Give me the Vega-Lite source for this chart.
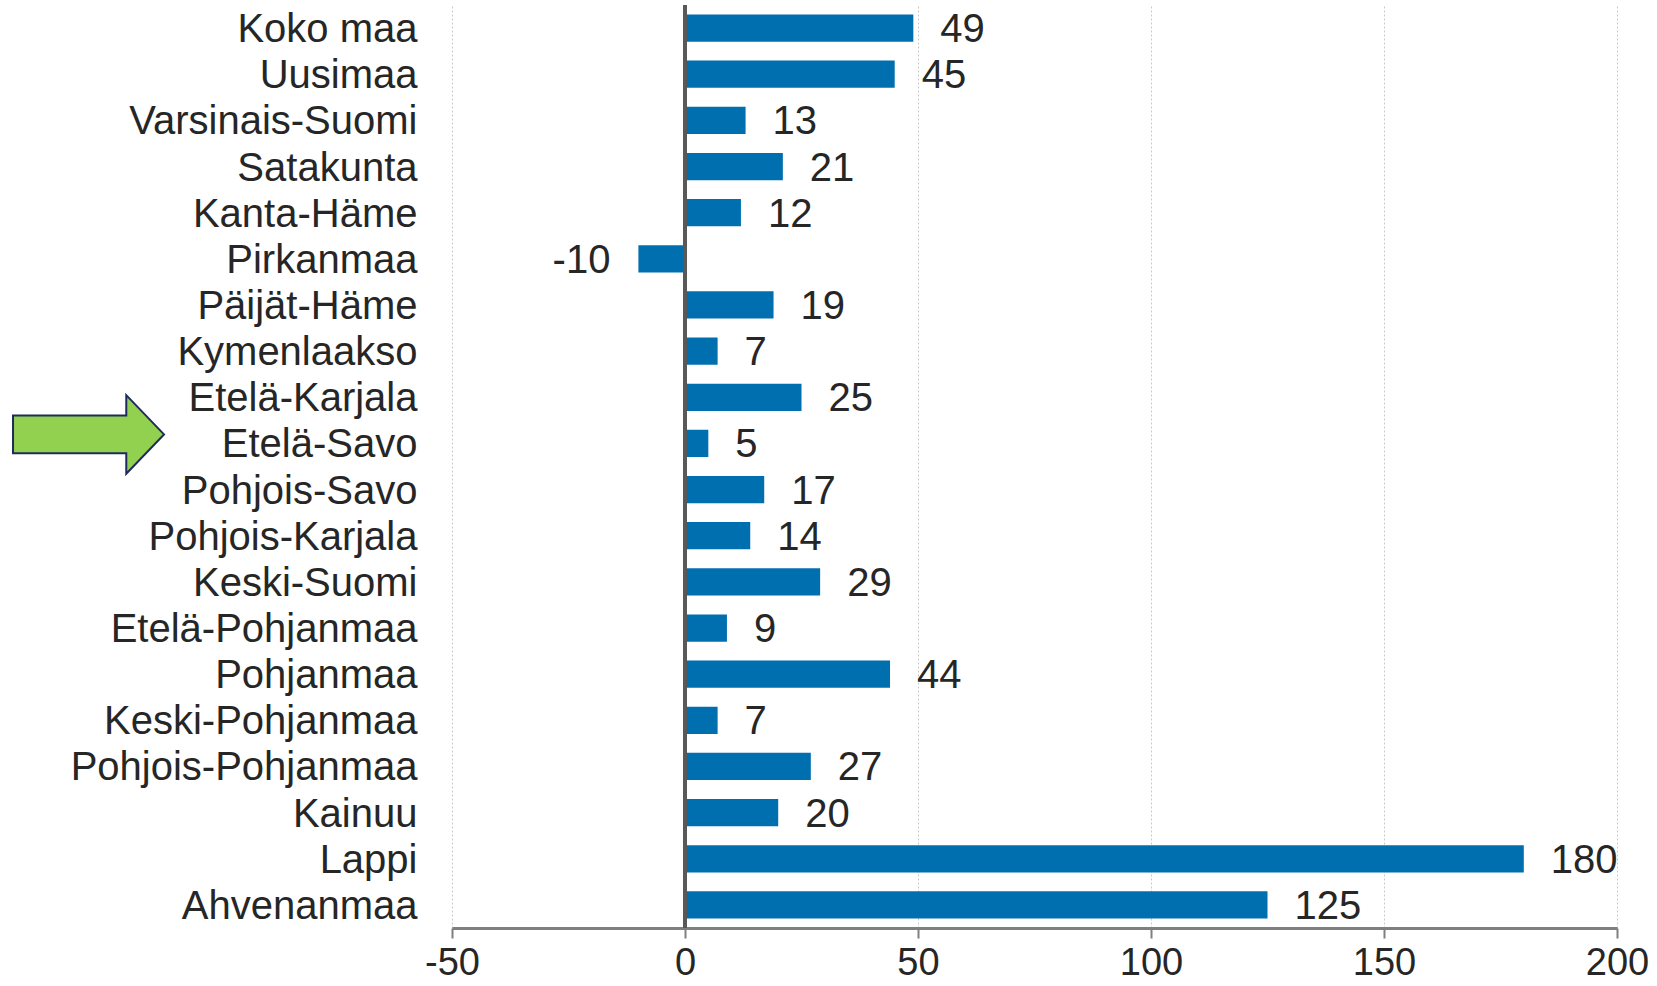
{
  "$schema": "https://vega.github.io/schema/vega-lite/v6.json",
  "width": 1165,
  "height": 923,
  "autosize": {"type": "none"},
  "padding": {"left": 452, "top": 5, "right": 40, "bottom": 58},
  "background": "white",
  "config": {
    "view": {"stroke": null},
    "font": "Liberation Sans",
    "locale": {"number": {"decimal": ".", "thousands": ",", "grouping": [3], "currency": ["", ""], "minus": "-"}}
  },
  "data": {
    "values": [
      {"region": "Koko maa", "value": 49},
      {"region": "Uusimaa", "value": 45},
      {"region": "Varsinais-Suomi", "value": 13},
      {"region": "Satakunta", "value": 21},
      {"region": "Kanta-Häme", "value": 12},
      {"region": "Pirkanmaa", "value": -10},
      {"region": "Päijät-Häme", "value": 19},
      {"region": "Kymenlaakso", "value": 7},
      {"region": "Etelä-Karjala", "value": 25},
      {"region": "Etelä-Savo", "value": 5},
      {"region": "Pohjois-Savo", "value": 17},
      {"region": "Pohjois-Karjala", "value": 14},
      {"region": "Keski-Suomi", "value": 29},
      {"region": "Etelä-Pohjanmaa", "value": 9},
      {"region": "Pohjanmaa", "value": 44},
      {"region": "Keski-Pohjanmaa", "value": 7},
      {"region": "Pohjois-Pohjanmaa", "value": 27},
      {"region": "Kainuu", "value": 20},
      {"region": "Lappi", "value": 180},
      {"region": "Ahvenanmaa", "value": 125}
    ]
  },
  "layer": [
    {
      "mark": {"type": "bar", "color": "#006FAF"},
      "encoding": {
        "y": {
          "field": "region", "type": "nominal", "sort": null,
          "scale": {"paddingInner": 0.41, "paddingOuter": 0.205},
          "axis": {"title": null, "ticks": false, "domain": false, "labelPadding": 35, "labelOffset": 2, "labelFontSize": 40, "labelColor": "#262626", "labelFont": "Liberation Sans", "labelLimit": 500}
        },
        "x": {
          "field": "value", "type": "quantitative",
          "scale": {"domain": [-50, 200], "nice": false, "zero": false},
          "axis": {
            "title": null, "values": [-50, 0, 50, 100, 150, 200],
            "grid": true, "gridColor": "#c8c8c8", "gridDash": [2, 2], "gridWidth": 1,
            "domainColor": "#7f7f7f", "domainWidth": 3,
            "tickColor": "#7f7f7f", "tickWidth": 2, "tickSize": 10,
            "labelFontSize": 38, "labelColor": "#262626", "labelPadding": 6, "labelFlush": false
          }
        }
      }
    },
    {
      "transform": [{"filter": "datum.value >= 0"}],
      "mark": {"type": "text", "align": "left", "baseline": "middle", "dx": 27, "dy": 2, "fontSize": 40, "color": "#262626"},
      "encoding": {
        "y": {"field": "region", "type": "nominal", "sort": null},
        "x": {"field": "value", "type": "quantitative"},
        "text": {"field": "value", "type": "quantitative", "format": "d"}
      }
    },
    {
      "transform": [{"filter": "datum.value < 0"}],
      "mark": {"type": "text", "align": "right", "baseline": "middle", "dx": -28, "dy": 2, "fontSize": 40, "color": "#262626"},
      "encoding": {
        "y": {"field": "region", "type": "nominal", "sort": null},
        "x": {"field": "value", "type": "quantitative"},
        "text": {"field": "value", "type": "quantitative", "format": "d"}
      }
    },
    {
      "mark": {"type": "rule", "color": "#595959", "strokeWidth": 2.5},
      "encoding": {"x": {"datum": 0}}
    },
    {
      "transform": [{"filter": "datum.region === 'Etelä-Savo'"}],
      "mark": {
        "type": "point", "filled": true, "clip": false,
        "shape": "M-1,-0.25L0.5,-0.25L0.5,-0.52L1,0L0.5,0.52L0.5,0.25L-1,0.25Z",
        "size": 22801, "fill": "#92D050", "fillOpacity": 1,
        "stroke": "#1F2A5C", "strokeWidth": 2, "opacity": 1, "yOffset": -9
      },
      "encoding": {
        "y": {"field": "region", "type": "nominal", "sort": null},
        "x": {"datum": -128}
      }
    }
  ]
}
